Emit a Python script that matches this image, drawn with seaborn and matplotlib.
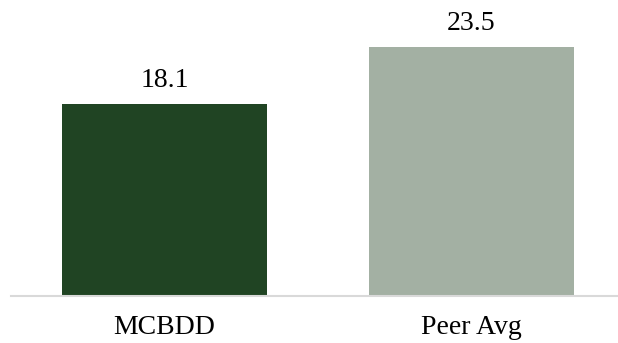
import matplotlib
matplotlib.use("Agg")
import matplotlib.pyplot as plt
import seaborn as sns
import pandas as pd

sns.set_style("white")
plt.rcParams["font.family"] = ["Liberation Serif", "DejaVu Serif"]

# data
categories = ["MCBDD", "Peer Avg"]
values = [18.1, 23.5]
colors = ["#204423", "#a3b0a3"]

df = pd.DataFrame({"group": categories, "value": values})

fig = plt.figure(figsize=(6.18, 3.43), dpi=100)
# axes: left edge of baseline at x=11px, baseline at y=296px
ax = fig.add_axes([11 / 618, 1 - 296 / 343, 607 / 618, 296 / 343])

sns.barplot(data=df, x="group", y="value", hue="group", palette=colors,
            width=0.668, legend=False, ax=ax, saturation=1, linewidth=0)

px_per_unit = 192 / 18.1
for i, v in enumerate(values):
    ax.text(i, v + 17 / px_per_unit, f"{v:.1f}", ha="center", va="baseline",
            fontsize=20, color="black")

ax.set_xlim(-0.5, 1.477)
ax.set_ylim(0, 296 / px_per_unit)
ax.set_xlabel("")
ax.set_ylabel("")
ax.set_yticks([])
ax.tick_params(axis="x", length=0, labelsize=20, pad=14, labelcolor="black")
sns.despine(ax=ax, left=True)
ax.spines["bottom"].set_color("#d9d9d9")
ax.spines["bottom"].set_linewidth(1.5)

fig.savefig("out.png", dpi=100)
